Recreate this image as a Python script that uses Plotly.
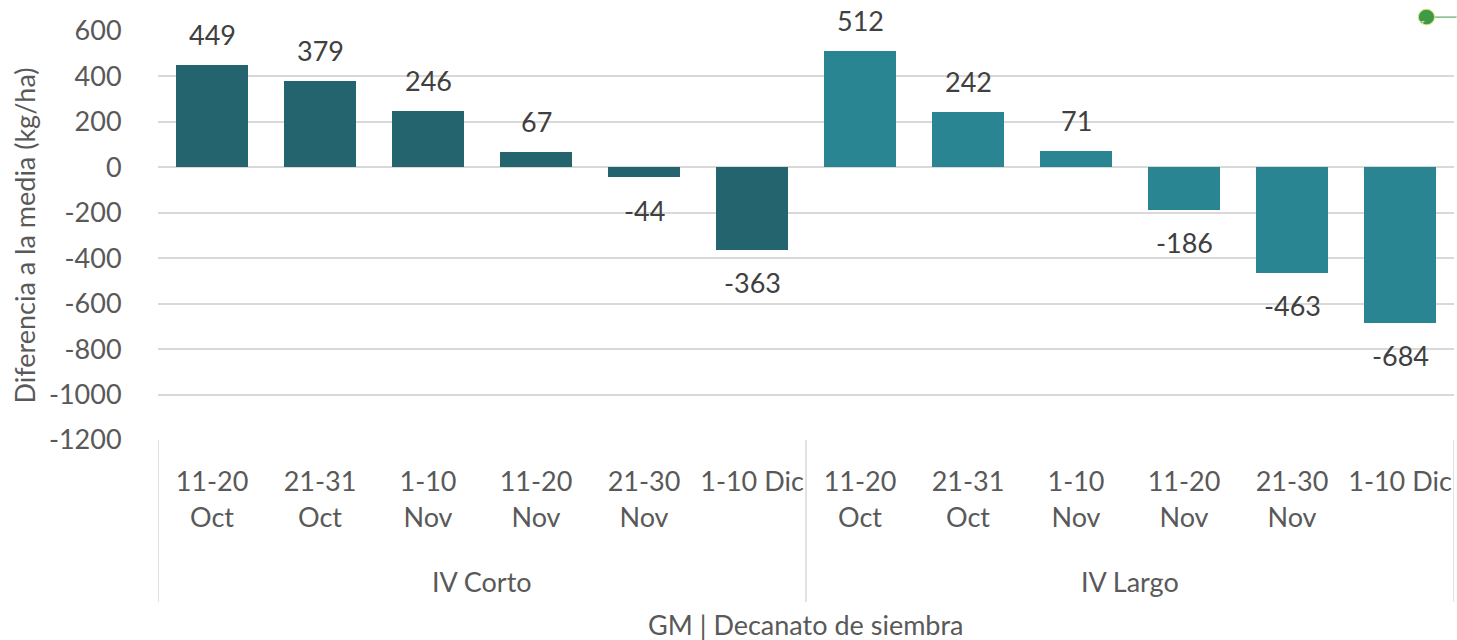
import plotly.graph_objects as go

categories = ["11-20<br>Oct", "21-31<br>Oct", "1-10<br>Nov", "11-20<br>Nov", "21-30<br>Nov", "1-10 Dic",
              "11-20<br>Oct", "21-31<br>Oct", "1-10<br>Nov", "11-20<br>Nov", "21-30<br>Nov", "1-10 Dic"]
groups = ["IV Corto", "IV Largo"]
group_sizes = [6, 6]
values = [449, 379, 246, 67, -44, -363, 512, 242, 71, -186, -463, -684]
group_colors = ["#23646E", "#2A8592"]
y_ticks = [600, 400, 200, 0, -200, -400, -600, -800, -1000, -1200]

FONT = "Lato, Carlito, Calibri, sans-serif"
FS = 27
TICK_COL = "#595959"
LABEL_COL = "#404040"
GRID = "#D9D9D9"

xs = list(range(len(values)))
colors = []
for g, n in enumerate(group_sizes):
    colors += [group_colors[g]] * n

fig = go.Figure()
fig.add_trace(go.Bar(x=xs, y=values, marker=dict(color=colors, line=dict(width=0)),
                     width=0.667, hoverinfo="x+y"))

annotations = []
for x, v in zip(xs, values):
    annotations.append(dict(x=x, y=v, xref="x", yref="y", text=str(v), showarrow=False,
                            yanchor="middle", yshift=31 if v >= 0 else -33,
                            font=dict(family=FONT, size=FS, color=LABEL_COL)))

shapes = []
start = 0
bounds = [-0.5]
for g, n in enumerate(group_sizes):
    center = start + (n - 1) / 2
    annotations.append(dict(x=center, y=-0.345, xref="x", yref="paper", text=groups[g],
                            showarrow=False, yanchor="middle",
                            font=dict(family=FONT, size=FS, color=TICK_COL)))
    start += n
    bounds.append(start - 0.5)
for b in bounds:
    shapes.append(dict(type="line", xref="x", yref="paper", x0=b, x1=b, y0=0, y1=-0.396,
                       line=dict(color=GRID, width=1.5)))

annotations.append(dict(x=(len(values) - 1) / 2, y=-0.45, xref="x", yref="paper",
                        text="GM | Decanato de siembra", showarrow=False, yanchor="middle",
                        font=dict(family=FONT, size=FS, color=TICK_COL)))

# small logo top-right
shapes.append(dict(type="line", xref="paper", yref="paper", x0=0.9795, x1=1.002, y0=1.034, y1=1.034,
                   line=dict(color="#3E9A48", width=1)))
shapes.append(dict(type="circle", xref="paper", yref="paper", x0=0.9725, x1=0.985, y0=1.015, y1=1.053,
                   fillcolor="#3E9A48", line=dict(color="#D8E36A", width=1)))
annotations.append(dict(x=0.9788, y=1.034, xref="paper", yref="paper", text="PAT", showarrow=False,
                        font=dict(family=FONT, size=6, color="white")))

fig.update_layout(
    width=1457, height=640,
    margin=dict(l=158, r=3, t=31, b=200, autoexpand=False),
    paper_bgcolor="white", plot_bgcolor="white",
    showlegend=False, bargap=0,
    annotations=annotations, shapes=shapes,
    xaxis=dict(range=[-0.5, len(values) - 0.5], tickmode="array", tickvals=xs, ticktext=categories,
               showgrid=False, zeroline=False, showline=False, automargin=False,
               ticks="outside", ticklen=18, tickcolor="rgba(0,0,0,0)",
               tickfont=dict(family=FONT, size=FS, color=TICK_COL), tickangle=0),
    yaxis=dict(range=[-1200, 600], tickmode="array", tickvals=y_ticks,
               ticktext=[str(t) for t in y_ticks], showgrid=True, gridcolor=GRID, gridwidth=1.5,
               zeroline=True, zerolinecolor=GRID, zerolinewidth=1.5, showline=False,
               automargin=False,
               ticks="outside", ticklen=30, tickcolor="rgba(0,0,0,0)",
               tickfont=dict(family=FONT, size=FS, color=TICK_COL),
               title=dict(text="Diferencia a la media (kg/ha)", standoff=5,
                          font=dict(family=FONT, size=FS, color=TICK_COL))),
)

fig.write_html("out.html", config={"displayModeBar": False},
               post_script="document.body.style.margin='0';document.body.style.overflow='hidden';")
